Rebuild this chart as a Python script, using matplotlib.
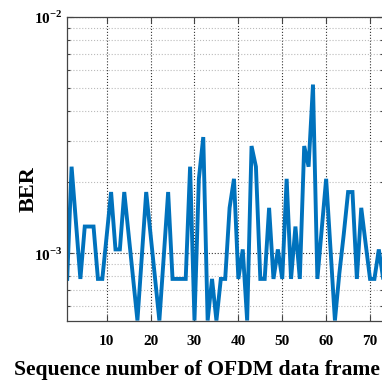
import numpy as np
import matplotlib
matplotlib.use('Agg')
import matplotlib.pyplot as plt
from matplotlib.ticker import LogLocator, NullFormatter, FixedLocator

plt.rcParams['font.family'] = 'Liberation Serif'
plt.rcParams['font.weight'] = 'bold'
plt.rcParams['mathtext.fontset'] = 'custom'
plt.rcParams['mathtext.rm'] = 'Liberation Serif:bold'
plt.rcParams['mathtext.bf'] = 'Liberation Serif:bold'

# BER per frame (units of 1e-3)
frame = np.arange(1, 74)
ber_e3 = [0.78, 2.33, 1.35, 0.78, 1.30, 1.30, 1.30, 0.78, 0.78, 1.19,
          1.82, 1.04, 1.04, 1.82, 1.20, 0.79, 0.52, 0.97, 1.82, 1.20,
          0.79, 0.52, 0.97, 1.82, 0.78, 0.78, 0.78, 0.78, 2.33, 0.52,
          2.07, 3.11, 0.52, 0.78, 0.52, 0.78, 0.78, 1.56, 2.07, 0.78,
          1.04, 0.52, 2.85, 2.33, 0.78, 0.78, 1.56, 0.78, 1.04, 0.78,
          2.07, 0.78, 1.30, 0.78, 2.85, 2.33, 5.19, 0.78, 1.27, 2.07,
          1.04, 0.52, 0.82, 1.20, 1.82, 1.82, 0.78, 1.56, 1.10, 0.78,
          0.78, 1.04, 0.78]
ber = np.array(ber_e3) * 1e-3

xticks = [10, 20, 30, 40, 50, 60, 70]

fig = plt.figure(figsize=(3.82, 3.81), dpi=100)
ax = fig.add_axes([67.2 / 382, 1 - 320.7 / 381, 316 / 382, 303.4 / 381])

ax.semilogy(frame, ber, color='#0072BD', lw=2.8, solid_joinstyle='miter')
ax.set_xlim(1, 73)
ax.set_ylim(5.19e-4, 1e-2)

ax.xaxis.set_major_locator(FixedLocator(xticks))
ax.yaxis.set_major_locator(LogLocator(base=10))
ax.yaxis.set_minor_locator(LogLocator(base=10, subs=np.arange(2, 10)))
ax.yaxis.set_minor_formatter(NullFormatter())
ax.set_yticks([1e-3, 1e-2])
ax.set_yticklabels([r'$10^{-3}$', r'$10^{-2}$'])

ax.grid(True, which='major', ls=':', color='#333333', lw=0.8)
ax.grid(True, which='minor', axis='y', ls=':', color='#bbbbbb', lw=0.8)
ax.tick_params(which='both', direction='in', top=True, right=True,
               labelsize=11, color='#444444', width=0.8)
ax.tick_params(which='major', length=4)
ax.tick_params(which='minor', length=2.5)
ax.tick_params(axis='x', pad=10)
for lbl in ax.get_xticklabels():
    lbl.set_fontweight('bold')
for s in ax.spines.values():
    s.set_color('#444444')
    s.set_linewidth(0.9)

ax.set_xlabel('Sequence number of OFDM data frame', fontsize=15.6, fontweight='bold')
ax.xaxis.set_label_coords((197 - 67.2) / 316, -0.128)
ax.set_ylabel('BER', fontsize=16, fontweight='bold')
ax.yaxis.set_label_coords(-0.089, 0.434)

fig.savefig('out.png', dpi=100)
